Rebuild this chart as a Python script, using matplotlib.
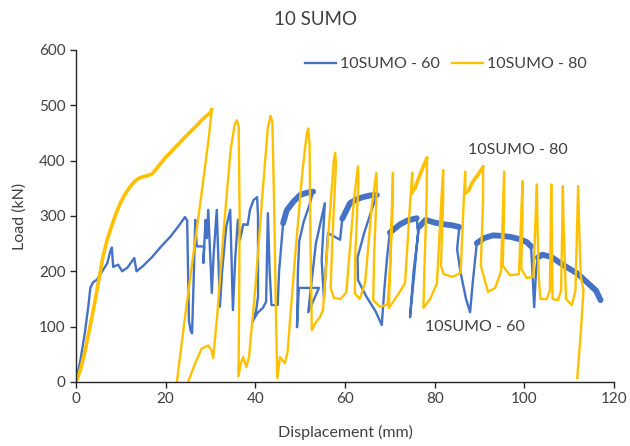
import matplotlib
matplotlib.use("Agg")
import matplotlib.pyplot as plt

# ---- data (Displacement mm, Load kN) ----
blue_x = [0, 1, 2, 2.8, 3.2, 3.8, 4.7, 6, 7, 7.6, 8.0, 8.3, 9.4, 10.3, 11.5, 13.0, 13.5, 15, 17, 19, 21, 23,
          24.3, 24.8, 25.0, 25.2, 25.6, 25.9, 26.3, 26.6, 26.9, 27.0, 28.6, 28.4, 28.9, 29.2, 29.5, 30.3, 30.7,
          31.4, 32.1, 32.6, 33.5, 34.4, 35.0, 35.5, 36.1, 36.6, 37.3, 38.3, 38.8, 39.6, 40.4, 40.6, 40.6, 40.2,
          39.3, 40.5, 41.7, 42.4, 42.8, 43.2, 43.6, 45.0, 45.3, 46.2, 47.0, 48.4, 50.0, 51.5, 52.9, 52.0, 50.8,
          49.8, 49.5, 49.3, 49.7, 54.2, 51.8, 53.5, 55.5, 54.8, 55.3, 56.2, 58.9, 59.4, 61.1, 62.5, 64, 65.5,
          67.1, 66.0, 64.3, 62.8, 62.9, 64.8, 66.8, 68.2, 68.8, 69.4, 70.0, 72.3, 74.0, 76.0, 76.3, 75.5, 74.5,
          75.3, 76.5, 78, 80, 82, 84, 85.5, 85, 85.8, 87, 87.9, 88.5, 89.4, 91, 93, 95, 97, 99, 100.5, 101.5,
          101.8, 102.2, 102.6, 103, 104, 106, 108, 110, 112, 114, 116, 117]
blue_y = [0, 40, 90, 140, 170, 180, 185, 202, 215, 235, 243, 208, 212, 200, 207, 224, 200, 210, 226, 245, 262, 283,
          298, 292, 200, 110, 92, 88, 200, 293, 250, 245, 245, 215, 293, 260, 311, 161, 230,
          311, 136, 200, 280, 311, 130, 220, 293, 257, 285, 284, 311, 329, 334, 300, 154, 130,
          108, 125, 134, 145, 305, 200, 139, 139, 200, 287, 310, 325, 338, 342, 344, 318, 290,
          255, 200, 99, 170, 170, 126, 250, 323, 220, 150, 269, 257, 295, 323, 330, 334, 337,
          338, 312, 270, 225, 184, 154, 128, 103, 170, 226, 270, 285, 292, 296, 270, 200, 117,
          200, 280, 293, 288, 285, 283, 280, 240, 197, 150, 126, 180, 251, 260, 265, 264, 262, 258, 253, 245,
          200, 135, 200, 225, 230, 226, 215, 205, 195, 180, 165, 148]

yel_x = [0, 1, 2, 3, 4, 5, 6, 7, 8, 9, 10, 11, 12, 13, 14, 15, 16, 17, 18, 19, 20, 21, 22, 23, 24, 25, 26, 27, 28,
         29, 30, 30.3, 29.6, 28.0, 26.0, 24.2, 22.5, 23.5, 25.0, 26.5, 28.0, 29.5, 30.2, 30.6, 31.5, 33.0, 34.5,
         35.4, 35.9, 36.3, 36.5, 36.4, 36.3, 36.2, 36.8, 37.3, 38.0, 38.6, 40.0, 41.5, 42.8, 43.4, 43.8, 44.2,
         44.6, 44.9, 45.5, 46.6, 47.2, 48.8, 50.5, 51.5, 51.8, 52.1, 52.3, 52.6, 53.5, 54.4, 55.1, 56.5, 57.5,
         57.8, 58.0, 57.2, 56.8, 57.5, 59.0, 60.3, 62.0, 62.9, 63.0, 62.3, 62.2, 63.3, 64.5, 66.0, 67.0, 67.1,
         66.5, 66.3, 67.8, 69.5, 70.0, 70.7, 70.7, 70.0, 69.8, 72.0, 73.4, 74.5, 75.0, 75.0, 75.6, 76.5, 77.5,
         78.3, 78.2, 77.7, 77.5, 79.0, 80.5, 81.5, 81.9, 81.9, 81.4, 82.0, 84.0, 85.8, 86.5, 86.8, 86.9, 87.5,
         88.5, 89.7, 90.8, 90.8, 90.3, 91.9, 93.5, 94.8, 95.5, 95.5, 95.2, 96.8, 98.8, 99.6, 99.6, 99.3, 100.5,
         102.0, 102.8, 102.9, 103.2, 103.6, 105.0, 105.7, 106.0, 106.1, 106.3, 107.5, 108.2, 108.6, 108.7,
         109.3, 110.6, 111.4, 112.0, 112.3, 112.6, 113.2, 112.6, 111.8]
yel_y = [0, 22, 55, 95, 135, 180, 226, 258, 283, 306, 325, 340, 352, 362, 368, 371, 373, 376, 386, 396, 406, 414,
         423, 431, 440, 448, 456, 464, 473, 480, 487, 493, 440, 340, 220, 110, 0, -40, 0, 32, 60, 66, 58, 43, 120,
         280, 420, 465, 473, 460, 300, 150, 50, 10, 35, 45, 27, 45, 170, 330, 460, 481, 470, 320, 120, 7, 45, 34,
         55, 220, 380, 450, 458, 430, 250, 94, 108, 117, 130, 290, 400, 414, 395, 260, 170, 152, 150, 162, 330,
         390, 360, 230, 160, 150, 180, 320, 378, 350, 230, 148, 136, 140, 200, 378, 330, 190, 134, 160, 179, 320,
         378, 340, 350, 370, 390, 405, 330, 200, 134, 150, 178, 330, 383, 330, 210, 195, 190, 197, 330, 380, 340,
         345, 362, 375, 389, 330, 210, 163, 170, 200, 380, 320, 210, 193, 195, 363, 300, 205, 188, 190, 357, 300,
         190, 150, 150, 165, 357, 300, 150, 148, 165, 354, 300, 150, 139, 165, 354, 260, 190, 166, 90, 7]

series_labels = ["10SUMO - 60", "10SUMO - 80"]
title = "10 SUMO"
x_label = "Displacement (mm)"
y_label = "Load (kN)"
x_ticks = [0, 20, 40, 60, 80, 100, 120]
y_ticks = [0, 100, 200, 300, 400, 500, 600]

BLUE = "#4472C4"
GOLD = "#FFC000"
TXT = "#404040"

plt.rcParams['font.family'] = ['Lato', 'DejaVu Sans']

fig = plt.figure(figsize=(6.3, 4.46), dpi=100)
ax = fig.add_axes([0.1206, 0.1435, 0.854, 0.7445])

ax.plot(blue_x, blue_y, color=BLUE, lw=1.7, label=series_labels[0], solid_joinstyle='round')

# noisy (thick) bands of the blue series
def seg(xs, ys, a, b):
    i, j = xs.index(a), xs.index(b)
    return xs[i:j + 1], ys[i:j + 1]

for a, b in [(46.2, 52.9), (59.4, 67.1), (70.0, 76.0), (76.5, 85.5), (89.4, 101.5), (103, 117)]:
    sx, sy = seg(blue_x, blue_y, a, b)
    ax.plot(sx, sy, color=BLUE, lw=4.2, solid_capstyle='round', solid_joinstyle='round')

ax.plot(yel_x, yel_y, color=GOLD, lw=1.7, label=series_labels[1], solid_joinstyle='round')
for a, b in [(0, 30.3), (75.6, 78.3), (87.5, 90.8)]:
    sx, sy = seg(yel_x, yel_y, a, b)
    ax.plot(sx, sy, color=GOLD, lw=2.6, solid_capstyle='round', solid_joinstyle='round')

ax.set_xlim(0, 120)
ax.set_ylim(0, 600)
ax.set_xticks(x_ticks)
ax.set_yticks(y_ticks)
for s in ['top', 'right']:
    ax.spines[s].set_visible(False)
for s in ['left', 'bottom']:
    ax.spines[s].set_color('#262626')
    ax.spines[s].set_linewidth(1.0)
ax.tick_params(axis='both', direction='out', length=4, width=1.0, colors='#262626',
               labelsize=11, labelcolor=TXT)

ax.set_xlabel(x_label, fontsize=11.5, color=TXT, labelpad=13)
ax.set_ylabel(y_label, fontsize=11.5, color=TXT, labelpad=9)
fig.suptitle(title, fontsize=13.5, color=TXT, y=0.975)

leg = ax.legend(loc='upper left', bbox_to_anchor=(0.4257, 0.979), ncol=2, frameon=False,
                fontsize=11.5, handlelength=1.95, columnspacing=0.75, handletextpad=0.25,
                borderaxespad=0, borderpad=0)
for t in leg.get_texts():
    t.set_color(TXT)

ax.text(98.6, 419, series_labels[1], fontsize=11.5, color=TXT, ha='center', va='center')
ax.text(89, 99, series_labels[0], fontsize=11.5, color=TXT, ha='center', va='center')

fig.savefig("out.png", dpi=100)
